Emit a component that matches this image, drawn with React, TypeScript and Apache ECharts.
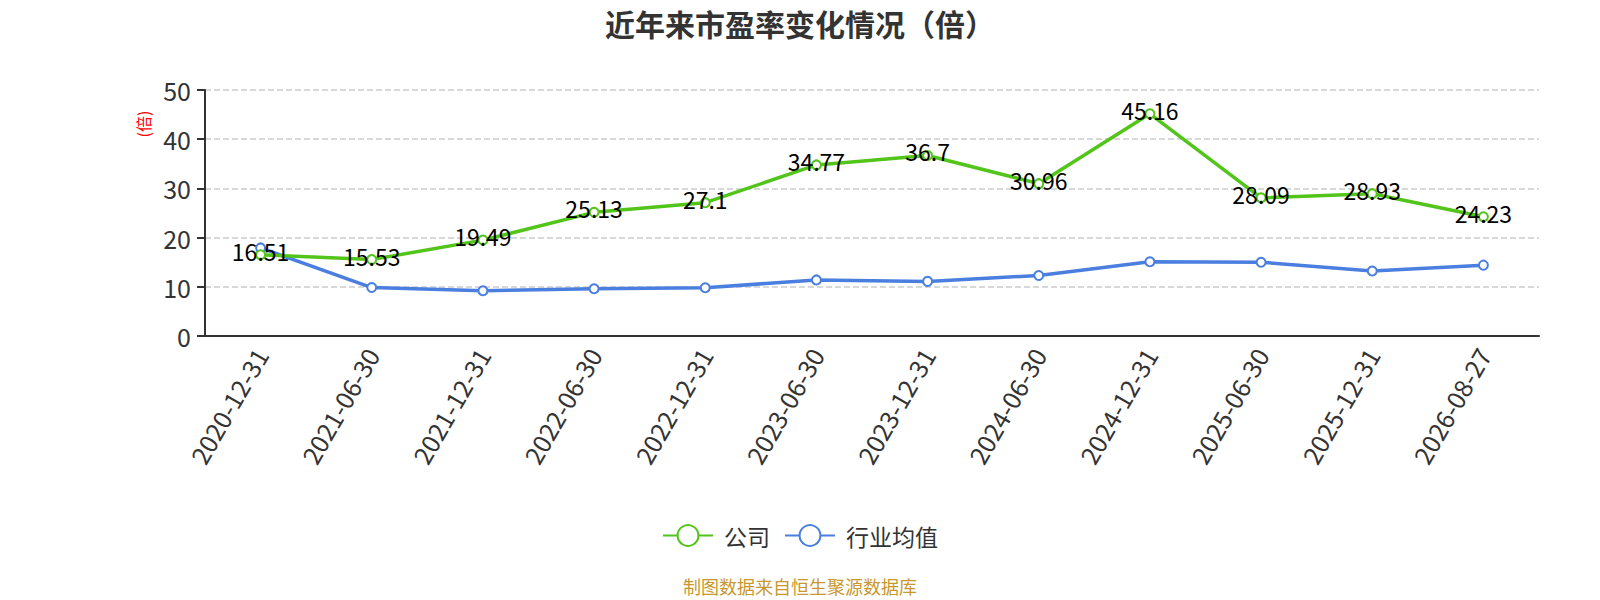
import React, { useEffect, useRef } from "react";
import * as echarts from "echarts";

const categories = [
  "2020-12-31", "2021-06-30", "2021-12-31", "2022-06-30", "2022-12-31", "2023-06-30",
  "2023-12-31", "2024-06-30", "2024-12-31", "2025-06-30", "2025-12-31", "2026-08-27",
];
const companyValues = [16.51, 15.53, 19.49, 25.13, 27.1, 34.77, 36.7, 30.96, 45.16, 28.09, 28.93, 24.23];
const industryValues = [17.9, 9.85, 9.2, 9.6, 9.8, 11.4, 11.1, 12.3, 15.1, 15.0, 13.2, 14.4];
const seriesNames = ["公司", "行业均值"];
const titleText = "近年来市盈率变化情况（倍）";
const yAxisName = "(倍)";
const footerText = "制图数据来自恒生聚源数据库";

export default function App() {
  const ref = useRef<HTMLDivElement>(null);
  useEffect(() => {
    document.body.style.margin = "0";
    const chart = echarts.init(ref.current!, null, { renderer: "svg" });
    const font = "'Noto Sans CJK SC', 'Noto Sans', sans-serif";
    chart.setOption({
      animation: false,
      textStyle: { fontFamily: font },
      title: {
        text: titleText,
        left: "center",
        top: 3,
        textStyle: { fontSize: 30, fontWeight: "bold", color: "#333", fontFamily: font },
      },
      legend: {
        top: 519,
        left: "center",
        itemWidth: 50,
        itemHeight: 26,
        itemGap: 14,
        textStyle: { fontSize: 23, color: "#333", fontFamily: font, padding: [0, 0, 0, 6] },
        data: seriesNames,
      },
      grid: { left: 205, right: 61, top: 90, bottom: 264 },
      xAxis: {
        type: "category",
        data: categories,
        boundaryGap: true,
        axisLine: { lineStyle: { color: "#333", width: 2 } },
        axisTick: { lineStyle: { color: "#333", width: 2 }, length: 8 },
        axisLabel: { rotate: 60, fontSize: 25, color: "#333", margin: 14, interval: 0, fontFamily: font },
      },
      yAxis: {
        type: "value",
        min: 0,
        max: 50,
        interval: 10,
        axisLine: { show: true, lineStyle: { color: "#333", width: 2 } },
        axisTick: { show: true, lineStyle: { color: "#333", width: 2 }, length: 8 },
        axisLabel: { fontSize: 25, color: "#333", margin: 14, fontFamily: font },
        splitLine: { lineStyle: { type: "dashed", color: "#ccc", width: 1.5 } },
      },
      series: [
        {
          name: seriesNames[0],
          type: "line",
          data: companyValues,
          symbol: "emptyCircle",
          symbolSize: 9,
          itemStyle: { color: "#52c41a" },
          lineStyle: { width: 3.5, color: "#52c41a" },
          label: {
            show: true,
            position: "inside",
            offset: [0, -4],
            fontSize: 23,
            color: "#000",
            fontFamily: font,
          },
          z: 3,
        },
        {
          name: seriesNames[1],
          type: "line",
          data: industryValues,
          symbol: "emptyCircle",
          symbolSize: 9,
          itemStyle: { color: "#4a7fe0" },
          lineStyle: { width: 3.5, color: "#4a7fe0" },
          z: 2,
        },
      ],
      graphic: [
        {
          type: "text",
          x: 143,
          y: 124,
          rotation: Math.PI / 2,
          style: {
            text: yAxisName,
            fontSize: 16,
            fill: "red",
            fontFamily: font,
            align: "center",
            verticalAlign: "middle",
          },
        },
        {
          type: "text",
          left: "center",
          top: 577,
          style: { text: footerText, fontSize: 18, fill: "#c9972f", fontFamily: font },
        },
      ],
    });
    return () => chart.dispose();
  }, []);
  return <div ref={ref} style={{ width: 1600, height: 600 }} />;
}
